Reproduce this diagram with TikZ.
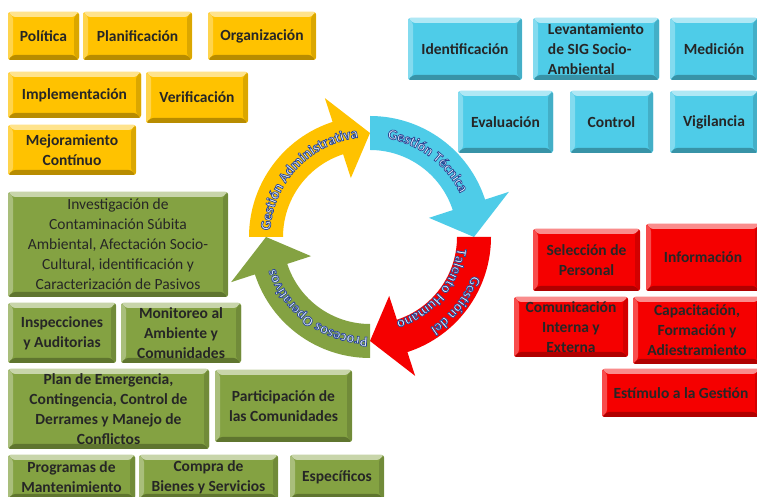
\documentclass[tikz,border=0pt]{standalone}
\usepackage{fontspec}
\setmainfont{Carlito}
\usetikzlibrary{decorations.text}
\definecolor{goldface}{RGB}{255,194,0}
\definecolor{aquaface}{RGB}{78,204,232}
\definecolor{redface}{RGB}{245,0,0}
\definecolor{oliveface}{RGB}{132,162,66}
\definecolor{ringface}{RGB}{225,238,252}

\newcommand{\tilefont}{\fontsize{15.5}{20}\selectfont\bfseries}
\newcommand{\ringfont}{\fontsize{14.5}{16}\selectfont\bfseries}
% light letters with a dark blue rim
\newcommand{\rimtext}{\special{pdf:literal direct 2 Tr 0.7 w 0.16 0.27 0.58 RG}}

% ring segment: tail angle, head base angle, tip angle, colour
\newcommand{\ringarrow}[4]{%
  \fill[#4] (#1:121) arc[start angle=#1, end angle=#2, radius=121]
    -- (#2:146) -- (#3:104) -- (#2:62) -- (#2:87)
    arc[start angle=#2, end angle=#1, radius=87] -- cycle;}

% label along the ring: from angle, to angle, radius, text
\newcommand{\ringlabel}[4]{%
  \path[decorate, decoration={text along path, text align=center,
    text={|\ringfont\color{ringface}\rimtext|#4}}] (#1:#3) arc[start angle=#1, end angle=#2, radius=#3];}

\begin{document}
\begin{tikzpicture}[x=1pt, y=1pt]
  \tikzset{tile/.style={rectangle, rounded corners=2.5pt, align=center, inner sep=1pt,
    font=\tilefont, text=black!85, fill=#1,
    path picture={
      \def\bw{5pt}
      \path (path picture bounding box.south west) coordinate (sw)
            (path picture bounding box.north east) coordinate (ne)
            (path picture bounding box.north west) coordinate (nw)
            (path picture bounding box.south east) coordinate (se);
      \fill[#1!45!white] (nw) -- (ne) -- ([shift={(-\bw,-\bw)}]ne) -- ([shift={(\bw,-\bw)}]nw) -- cycle;
      \fill[#1!70!white] (nw) -- ([shift={(\bw,-\bw)}]nw) -- ([shift={(\bw,\bw)}]sw) -- (sw) -- cycle;
      \fill[#1!72!black] (sw) -- ([shift={(\bw,\bw)}]sw) -- ([shift={(-\bw,\bw)}]se) -- (se) -- cycle;
      \fill[#1!86!black] (se) -- ([shift={(-\bw,\bw)}]se) -- ([shift={(-\bw,-\bw)}]ne) -- (ne) -- cycle;
    }}}

  \useasboundingbox (0,0) rectangle (757,497);
  \clip (0,0) rectangle (757,497);
  \fill[white] (0,0) rectangle (757,497);

  % administrative tiles
  \node[tile=goldface, minimum width=71, minimum height=48] (politica) at (43.5,461) {Política};
  \node[tile=goldface, minimum width=109, minimum height=48] (planif) at (137.5,461) {Planificación};
  \node[tile=goldface, minimum width=108, minimum height=48] (organiz) at (262,461) {Organización};
  \node[tile=goldface, minimum width=133, minimum height=46] (implem) at (74.5,402) {Implementación};
  \node[tile=goldface, minimum width=102, minimum height=51] (verif) at (197,399.5) {Verificación};
  \node[tile=goldface, minimum width=128, minimum height=50] (mejora) at (72,347) {Mejoramiento\\Contínuo};

  % technical tiles
  \node[tile=aquaface, minimum width=114, minimum height=62] (ident) at (465,448) {Identificación};
  \node[tile=aquaface, minimum width=126, minimum height=62, align=left] (levant) at (596,448) {Levantamiento\\de SIG Socio-\\Ambiental};
  \node[tile=aquaface, minimum width=88, minimum height=62] (medic) at (714,448) {Medición};
  \node[tile=aquaface, minimum width=95, minimum height=62] (evalua) at (505.5,375) {Evaluación};
  \node[tile=aquaface, minimum width=83, minimum height=62] (control) at (611.5,375) {Control};
  \node[tile=aquaface, minimum width=88, minimum height=62] (vigil) at (714,375) {Vigilancia};

  % human talent tiles
  \node[tile=redface, minimum width=107, minimum height=62] (seleccion) at (586.5,237) {Selección de\\Personal};
  \node[tile=redface, minimum width=114, minimum height=67] (informa) at (703,239.5) {Información};
  \node[tile=redface, minimum width=114, minimum height=60] (comunica) at (571,170) {Comunicación\\Interna y\\Externa};
  \node[tile=redface, minimum width=128, minimum height=67] (capacita) at (697,166.5) {Capacitación,\\Formación y\\Adiestramiento};
  \node[tile=redface, minimum width=158, minimum height=48] (estimulo) at (681,104) {Estímulo a la Gestión};

  % operative tiles
  \node[tile=oliveface, minimum width=220, minimum height=105, font=\fontsize{15.5}{20}\selectfont] (invest) at (118,252.5)
    {Investigación de\\Contaminación Súbita\\Ambiental, Afectación Socio-\\Cultural, identificación y\\Caracterización de Pasivos};
  \node[tile=oliveface, minimum width=108, minimum height=60] (insp) at (62,164) {Inspecciones\\y Auditorias};
  \node[tile=oliveface, minimum width=120, minimum height=60] (monit) at (181,164) {Monitoreo al\\Ambiente y\\Comunidades};
  \node[tile=oliveface, minimum width=201, minimum height=80] (emerg) at (108.5,88)
    {Plan de Emergencia,\\Contingencia, Control de\\Derrames y Manejo de\\Conflictos};
  \node[tile=oliveface, minimum width=137, minimum height=72] (partic) at (283.5,91) {Participación de\\las Comunidades};
  \node[tile=oliveface, minimum width=127, minimum height=44] (program) at (71.5,20) {Programas de\\Mantenimiento};
  \node[tile=oliveface, minimum width=139, minimum height=44] (compra) at (208.5,20) {Compra de\\Bienes y Servicios};
  \node[tile=oliveface, minimum width=94, minimum height=44] (especif) at (337,20) {Específicos};

  % management cycle
  \begin{scope}[shift={(370,260)}]
    \ringarrow{180}{108}{90}{goldface}
    \ringarrow{90}{18}{0}{aquaface}
    \ringarrow{0}{-72}{-90}{redface}
    \ringarrow{-90}{-162}{-180}{oliveface}

    \ringlabel{181}{92}{100}{Gestión Administrativa}
    \ringlabel{90}{16}{100}{Gestión Técnica}
    \ringlabel{0}{-77}{109}{Gestión del}
    \ringlabel{0}{-80}{88}{Talento Humano}
    \ringlabel{-81}{-172}{100}{Procesos Operativos}
  \end{scope}
\end{tikzpicture}
\end{document}
